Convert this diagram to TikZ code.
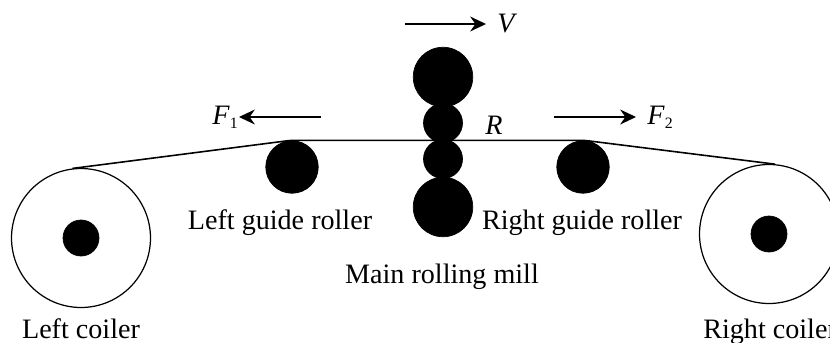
\documentclass[tikz,border=0pt]{standalone}
\usepackage{fontspec}
\setmainfont{Liberation Serif}
\usetikzlibrary{arrows.meta}

\newcommand{\forcesub}[1]{\raisebox{-2.5pt}{\fontsize{9}{9}\selectfont #1}}

\tikzset{
  roller/.style={circle, fill=black, draw=black, inner sep=0pt},
  coiler/.style={circle, draw=black, line width=0.7pt, inner sep=0pt, minimum size=2.78cm},
  label/.style={font=\fontsize{16}{18}\selectfont, anchor=base, inner sep=0pt},
  force/.style={line width=0.7pt, -{Stealth[length=9pt,width=8.5pt]}},
  strip/.style={line width=0.9pt}
}

\begin{document}
\begin{tikzpicture}[x=0.02cm, y=0.02cm]

% Cadre
\useasboundingbox (0,-342) rectangle (830,0);
\clip (0,-342) rectangle (830,0);

% Laminoir
\node[roller, minimum size=1.19cm] (topbackup)  at (443,-77)  {};
\node[roller, minimum size=0.78cm] (topwork)    at (443,-123) {};
\node[roller, minimum size=0.78cm] (bottomwork) at (443,-159) {};
\node[roller, minimum size=1.19cm] (botbackup)  at (443,-207) {};

% Rouleaux de guidage
\node[roller, minimum size=1.05cm] (leftguide)  at (292,-167) {};
\node[roller, minimum size=1.05cm] (rightguide) at (583,-167) {};

% Bobineuses
\node[coiler] (leftcoiler)  at (81,-238)  {};
\node[coiler] (rightcoiler) at (769,-234) {};
\node[roller, minimum size=0.72cm] (lefthub)  at (81,-238)  {};
\node[roller, minimum size=0.72cm] (righthub) at (769,-234) {};

% Bande
\draw[strip] (leftcoiler.97) -- (leftguide.97) -- (leftguide.north)
  -- (rightguide.north) -- (rightguide.83) -- (rightcoiler.85);

% Efforts et vitesse
\node[label, anchor=base west] (vlabel) at (497,-32) {\textit{V}};
\node[label, anchor=base west] (fonelabel) at (212,-124) {\textit{F}\forcesub{1}};
\node[label, anchor=base west] (ftwolabel) at (647,-124) {\textit{F}\forcesub{2}};
\node[label] (rlabel) at (494,-134) {\textit{R}};
\coordinate (vtail) at (405,-24);
\coordinate (vhead) at (486,-24);
\coordinate (fonetail) at (321,-117);
\coordinate (fonehead) at (239,-117);
\coordinate (ftwotail) at (554,-117);
\coordinate (ftwohead) at (636,-117);
\draw[force] (vtail) -- (vhead);
\draw[force] (fonetail) -- (fonehead);
\draw[force] (ftwotail) -- (ftwohead);

% Etiquettes
\node[label] (leftguidelabel)  at (280,-229) {Left guide roller};
\node[label] (rightguidelabel) at (582,-229) {Right guide roller};
\node[label] (milllabel)       at (442,-283) {Main rolling mill};
\node[label] (leftcoilerlabel) at (81,-338)  {Left coiler};
\node[label, anchor=base west] (rightcoilerlabel) at (703,-338) {Right coiler};

\end{tikzpicture}
\end{document}
